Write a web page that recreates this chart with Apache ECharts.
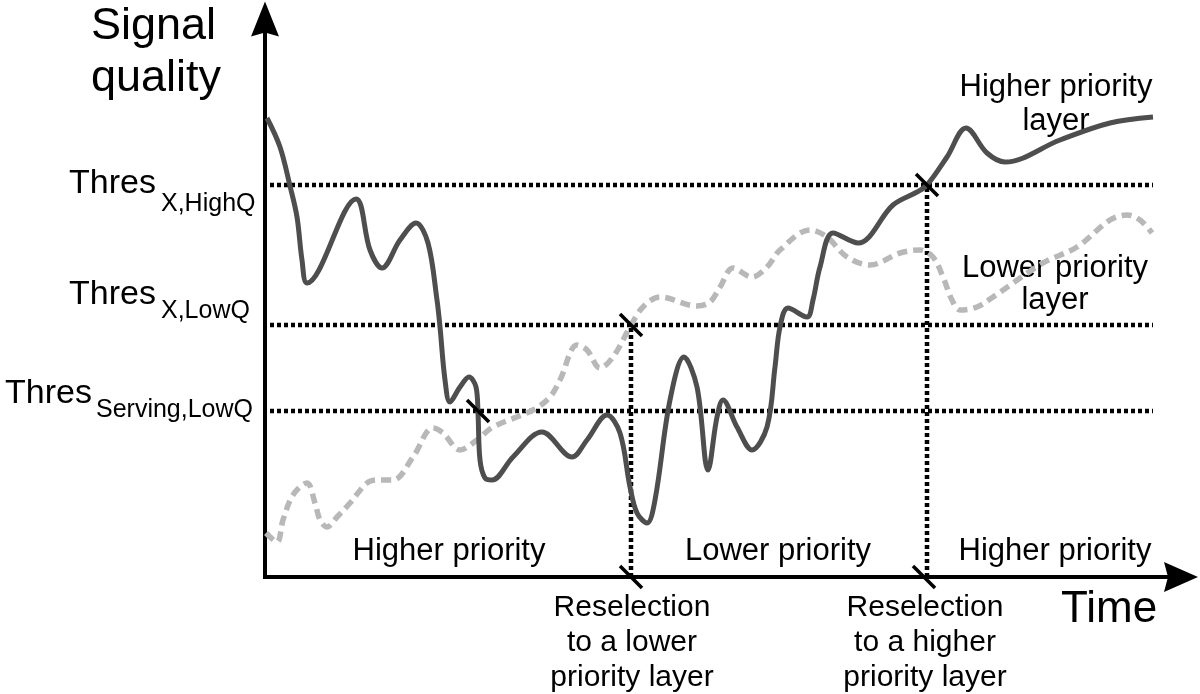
<!DOCTYPE html>
<html>
<head>
<meta charset="utf-8">
<script src="https://cdn.jsdelivr.net/npm/echarts@6/dist/echarts.min.js"></script>
<style>html,body{margin:0;padding:0;background:#fff}#c{width:1200px;height:694px}</style>
</head>
<body>
<div id="c"></div>
<script>
// Time (x) and signal quality (y) of the serving (higher priority) layer
const higherLayer = [
  [2,459],[15,430],[25,391],[32,360],[37,317],[42,294],[91,378],[105,327],[117,309],[135,337],
  [151,354],[163,334],[172,277],[175,250],[180,197],[185,175],[195,190],[204,200],[211,190],[213,164],
  [215,117],[220,99],[227,97],[248,120],[277,145],[307,120],[322,137],[342,162],[355,144],[365,90],
  [372,64],[382,54],[390,77],[405,177],[419,220],[432,190],[443,107],[452,160],[458,177],[472,150],
  [487,127],[502,150],[510,210],[515,250],[523,269],[542,260],[548,277],[555,310],[568,344],[593,334],
  [628,372],[652,385],[662,392],[682,420],[701,449],[722,424],[740,415],[795,437],[845,454],[888,460]
];
// Lower priority layer
const lowerLayer = [
  [1,44],[12,35],[18,57],[28,82],[42,94],[50,74],[55,57],[62,50],[72,60],[85,74],
  [102,94],[112,97],[128,97],[148,120],[168,149],[178,144],[195,127],[212,137],[228,150],[268,167],
  [285,180],[295,197],[312,232],[322,227],[335,209],[348,220],[365,250],[378,270],[395,280],[432,271],
  [445,275],[455,290],[468,309],[487,300],[502,310],[515,327],[545,347],[562,340],[582,320],[605,312],
  [635,324],[655,327],[668,320],[678,300],[687,277],[695,267],[712,270],[728,280],[778,314],[812,330],
  [845,357],[862,362],[875,357],[887,344]
];
const thresholds = [392, 252, 166];           // HighQ, LowQ, Serving LowQ
const thresholdSpan = [5, 888];
const reselections = [[366, 252], [662, 392]]; // time, quality where reselection happens
const crossingMarks = [[213,166],[366,252],[662,392],[366,0],[659,0]];

const FONT = "'Liberation Sans', Arial, Helvetica, sans-serif";
const chart = echarts.init(document.getElementById('c'));

function txt(text, x, y, size, align, lh) {
  return {type:'text', x:x, y:y, silent:true,
    style:{text:text, font:size+'px '+FONT, fill:'#000', align:align, textAlign:align,
      verticalAlign:'middle', textVerticalAlign:'middle', lineHeight: lh || size}};
}

const dotted = {color:'#000', width:4.5, type:[4,3]};
const series = [];
thresholds.forEach(function(t){
  series.push({type:'line', data:[[thresholdSpan[0],t],[thresholdSpan[1],t]], symbol:'none',
    lineStyle:dotted, silent:true, z:1});
});
reselections.forEach(function(r){
  series.push({type:'line', data:[[r[0],0],[r[0],r[1]]], symbol:'none', lineStyle:dotted, silent:true, z:1});
});
series.push({type:'line', data:lowerLayer, smooth:0.35, symbol:'none',
  lineStyle:{color:'#b8b8b8', width:5.5, type:[10,6]}, z:3});
series.push({type:'line', data:higherLayer, smooth:0.35, symbol:'none',
  lineStyle:{color:'#4e4e4e', width:5}, z:4});
series.push({type:'custom', data:crossingMarks, z:5,
  renderItem:function(params, api){
    const p = api.coord([api.value(0), api.value(1)]);
    return {type:'line', shape:{x1:p[0]-11,y1:p[1]-11,x2:p[0]+11,y2:p[1]+11},
      style:{stroke:'#000', lineWidth:3.5}};
  }});

chart.setOption({
  animation:false,
  grid:{left:265, right:19, top:19, bottom:117},
  xAxis:{type:'value', min:0, max:916, splitLine:{show:false}, axisTick:{show:false}, axisLabel:{show:false},
    axisLine:{show:true, onZero:false, symbol:['none','path://M15,0 L30,34 L15,30 L0,34 Z'], symbolSize:[30,34],
      lineStyle:{color:'#000', width:4, cap:'square'}}},
  yAxis:{type:'value', min:0, max:558, splitLine:{show:false}, axisTick:{show:false}, axisLabel:{show:false},
    axisLine:{show:true, onZero:false, symbol:['none','path://M14,0 L28,35 L14,31 L0,35 Z'], symbolSize:[28,35],
      lineStyle:{color:'#000', width:4, cap:'square'}}},
  graphic:{elements:[
    txt('Signal', 91, 27, 45, 'left'),
    txt('quality', 91, 79, 45, 'left'),
    txt('Time', 1061, 610, 44, 'left'),
    txt('Thres', 156, 184, 34, 'right'),
    txt('X,HighQ', 161, 204, 25, 'left'),
    txt('Thres', 156, 295, 34, 'right'),
    txt('X,LowQ', 161, 311, 25, 'left'),
    txt('Thres', 92, 394, 34, 'right'),
    txt('Serving,LowQ', 96, 410, 25, 'left'),
    txt('Higher priority\nlayer', 1056, 104, 31, 'center', 34),
    txt('Lower priority\nlayer', 1055, 284, 31, 'center', 32),
    txt('Higher priority', 449, 551, 31, 'center'),
    txt('Lower priority', 778, 551, 31, 'center'),
    txt('Higher priority', 1055, 551, 31, 'center'),
    txt('Reselection\nto a lower\npriority layer', 632, 643, 30, 'center', 35),
    txt('Reselection\nto a higher\npriority layer', 925, 643, 30, 'center', 35)
  ]},
  series:series
});
</script>
</body>
</html>
